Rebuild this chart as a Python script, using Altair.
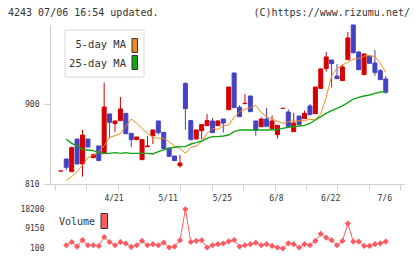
import altair as alt
import pandas as pd

# ---- daily candles (index 0 .. 60) ----
open_ = [824.6, 838.1, 823.9, 860.6, 832.5, 860.6, 839.6, 852.8, 844.1, 888.8,
         877.9, 881.3, 889.5, 867.0, 859.9, 837.4, 852.0, 864.4, 880.9, 868.1,
         850.5, 841.5, 830.6, 923.0, 881.3, 860.6, 870.0, 875.6, 880.9, 875.6,
         883.1, 893.6, 934.9, 896.3, 900.4, 909.0, 880.9, 874.5, 883.1, 872.3,
         865.5, 895.1, 891.0, 868.9, 886.5, 883.5, 897.8, 889.1, 917.6, 939.8,
         949.5, 931.5, 926.3, 949.9, 988.9, 958.5, 933.0, 954.0, 946.1, 937.5,
         928.1]
close = [824.6, 828.8, 850.9, 832.5, 865.1, 851.6, 843.0, 836.3, 896.6, 879.4,
         880.9, 894.4, 866.6, 859.9, 862.9, 859.9, 852.8, 870.8, 867.8, 849.8,
         841.1, 836.3, 833.6, 894.8, 859.9, 870.8, 876.8, 881.3, 867.8, 880.9,
         878.6, 919.1, 895.9, 885.8, 900.8, 891.4, 870.4, 883.1, 874.9, 880.9,
         876.0, 895.1, 874.5, 878.6, 877.1, 889.5, 888.0, 919.1, 939.4, 952.9,
         945.4, 928.5, 941.6, 974.3, 957.8, 938.6, 956.3, 945.8, 935.6, 927.4,
         913.1]
high = [824.6, 838.1, 852.0, 860.6, 870.8, 860.6, 844.5, 852.8, 924.0, 888.8,
        880.9, 907.9, 889.5, 867.0, 862.9, 859.9, 863.8, 870.8, 880.9, 868.1,
        850.5, 841.5, 842.6, 924.5, 881.3, 870.8, 876.8, 888.8, 884.5, 882.0,
        883.1, 919.1, 934.9, 898.7, 911.3, 909.0, 880.9, 885.0, 895.5, 887.1,
        876.0, 895.1, 893.8, 889.9, 886.5, 892.5, 900.0, 919.1, 940.1, 958.5,
        949.5, 945.0, 944.0, 981.0, 988.9, 959.6, 956.3, 954.0, 960.8, 939.4,
        931.3]
low = [824.6, 825.4, 823.9, 832.5, 818.3, 851.6, 839.6, 836.3, 844.1, 861.2,
       868.5, 881.3, 866.6, 851.5, 859.9, 837.4, 852.0, 855.0, 865.5, 849.8,
       841.1, 836.3, 828.4, 871.0, 859.9, 860.6, 860.6, 875.6, 867.8, 875.6,
       867.8, 893.6, 895.9, 885.8, 900.4, 891.4, 864.4, 874.5, 874.9, 872.3,
       861.0, 895.1, 874.5, 868.9, 877.1, 883.5, 888.0, 889.1, 916.9, 936.4,
       918.4, 928.5, 926.3, 949.9, 956.6, 938.6, 933.0, 945.8, 931.8, 927.4,
       911.8]

# ---- moving averages and volume (index 1 .. 60) ----
ma5 = [813.8, 818.3, 823.9, 831.4, 839.6, 842.6, 846.4, 853.1, 862.5, 864.4,
       866.6, 875.3, 883.1, 878.3, 872.6, 867.0, 862.5, 861.4, 861.4, 857.6,
       852.8, 850.1, 844.5, 851.3, 852.8, 857.6, 867.0, 872.6, 871.5, 875.3,
       876.4, 885.0, 891.4, 894.0, 895.9, 898.5, 890.3, 885.8, 883.1, 880.5,
       878.3, 880.1, 880.9, 880.9, 881.3, 882.8, 882.0, 888.8, 907.5, 931.5,
       940.1, 943.9, 946.9, 950.3, 951.0, 954.0, 954.4, 953.3, 945.8, 935.6]
ma25 = [860.6, 855.8, 852.8, 849.0, 848.3, 847.5, 845.3, 844.5, 844.5, 845.3,
        844.5, 845.3, 844.5, 844.5, 844.5, 844.5, 843.8, 846.4, 848.3, 850.1,
        851.3, 852.0, 852.0, 855.0, 856.5, 858.4, 861.4, 863.3, 863.3, 864.0,
        865.1, 868.9, 870.8, 870.8, 870.8, 870.8, 870.8, 870.8, 870.8, 871.5,
        872.6, 873.8, 874.5, 875.3, 876.0, 878.3, 882.0, 885.8, 889.5, 892.5,
        895.1, 897.8, 901.5, 905.6, 907.5, 909.0, 910.1, 912.0, 913.5, 913.9]
volume = [1600, 3100, 1000, 4000, 1600, 1600, 1300, 5400, 3100, 1600,
          3100, 2400, 850, 1600, 3600, 1600, 2100, 1600, 2800, 550,
          1000, 3900, 18200, 3100, 3600, 3900, 550, 1600, 2100, 2400,
          3400, 4000, 1000, 1600, 2100, 2800, 1600, 2100, 1300, 550,
          100, 2500, 2100, 550, 2100, 1600, 3600, 6900, 5100, 3900,
          1600, 3600, 11600, 3300, 3300, 1300, 1300, 2100, 2500, 3300]

date_labels = ["4/21", "5/11", "5/25", "6/8", "6/22", "7/6"]
date_index = [10, 20, 30, 40, 50, 60]

price_ticks = [810, 900]
volume_ticks = [100, 9150, 18200]

header_left = "4243 07/06 16:54 updated."
header_right = "(C)https://www.rizumu.net/"
legend_labels = ["5-day MA", "25-day MA"]

# ---- styling ----
FONT = "DejaVu Sans Mono"
INK = "#333333"
AXIS = "#cfcfcf"
UP = "#d40000"
DOWN = "#4242c2"
ORANGE = "#f08a1a"
GREEN = "#14a514"
VOL = "#ff5a60"

W, H = 355, 224          # whole plotting area (price + volume panels)
PRICE_H = 159            # price panel height

x_lo, x_hi = -1.08, 62.63
x_scale = alt.Scale(domain=[x_lo, x_hi], nice=False, zero=False)
x_tick_values = [x_lo + k * (x_hi - x_lo) / 11 for k in range(12)]
x_axis = alt.Axis(values=x_tick_values, labels=False, title=None, grid=False,
                  domainColor=AXIS, tickColor=AXIS, tickSize=6,
                  orient="bottom", offset=-(H - PRICE_H))

p_scale = alt.Scale(domain=[810, 988.875], range=[PRICE_H, 0], nice=False, zero=False)
p_axis = alt.Axis(values=price_ticks, title=None, grid=False,
                  domainColor=AXIS, tickColor=AXIS, tickSize=6,
                  labelFont=FONT, labelFontSize=8, labelColor=INK, labelPadding=5)

v_scale = alt.Scale(domain=[100, 18200], range=[223.5, 184.3], nice=False, zero=False)
v_axis = alt.Axis(values=volume_ticks, format="d", title=None, grid=False, domain=False,
                  ticks=False, tickSize=0, orient="left",
                  labelFont=FONT, labelFontSize=8, labelColor=INK, labelPadding=6)

candles = pd.DataFrame({"i": list(range(len(open_))), "open": open_, "close": close,
                        "high": high, "low": low})
candles["dir"] = ["up" if c >= o else "down" for o, c in zip(open_, close)]
dir_color = alt.Color("dir:N", scale=alt.Scale(domain=["up", "down"], range=[UP, DOWN]),
                      legend=None)

lines = pd.DataFrame({"i": list(range(1, len(ma5) + 1)), "ma5": ma5, "ma25": ma25,
                      "vol": volume})
dates = pd.DataFrame({"i": date_index, "label": date_labels})
one = pd.DataFrame({"n": [0]})

X = alt.X("i:Q", scale=x_scale, axis=x_axis)

wicks = alt.Chart(candles).mark_rule(strokeWidth=1).encode(
    x=X, y=alt.Y("low:Q", scale=p_scale, axis=p_axis), y2="high:Q", color=dir_color)
bodies = alt.Chart(candles).mark_bar(size=4, strokeWidth=1).encode(
    x=X, y=alt.Y("open:Q", scale=p_scale, axis=p_axis), y2="close:Q",
    color=dir_color, stroke=dir_color)
ma5_line = alt.Chart(lines).mark_line(color=ORANGE, strokeWidth=1).encode(
    x=X, y=alt.Y("ma5:Q", scale=p_scale, axis=p_axis))
ma25_line = alt.Chart(lines).mark_line(color=GREEN, strokeWidth=1.4).encode(
    x=X, y=alt.Y("ma25:Q", scale=p_scale, axis=p_axis))
date_text = alt.Chart(dates).mark_text(font=FONT, fontSize=8, color=INK,
                                       align="center", baseline="middle", dx=-1).encode(
    x=X, y=alt.value(PRICE_H + 14.5), text="label:N")

price = alt.layer(wicks, bodies, ma5_line, ma25_line, date_text)

vol_line = alt.Chart(lines).mark_line(color=VOL, strokeWidth=1).encode(
    x=X, y=alt.Y("vol:Q", scale=v_scale, axis=v_axis))
vol_pts = alt.Chart(lines).mark_point(shape="diamond", filled=True, size=38,
                                      color=VOL, opacity=1).encode(
    x=X, y=alt.Y("vol:Q", scale=v_scale, axis=v_axis))
volume_panel = alt.layer(vol_line, vol_pts)


def label(text, x, y, align="left", size=10):
    return alt.Chart(one).mark_text(text=text, font=FONT, fontSize=size, color=INK,
                                    align=align, baseline="middle").encode(
        x=alt.value(x), y=alt.value(y))


def box(x, x2, y, y2, fill, stroke):
    return alt.Chart(one).mark_rect(fill=fill, stroke=stroke, strokeWidth=1).encode(
        x=alt.value(x), x2=alt.value(x2), y=alt.value(y), y2=alt.value(y2))


deco = alt.layer(
    label(header_left, -42, -12.5),
    label(header_right, 360, -12.5, align="right"),
    box(15, 94, 5, 52, "white", "#d8d8d8"),
    label(legend_labels[0], 76, 20, align="right", size=10.5),
    label(legend_labels[1], 76, 38.5, align="right", size=10.5),
    box(82, 87.5, 13.5, 27.5, ORANGE, "#333333"),
    box(82, 87.5, 30.5, 44.5, GREEN, "#333333"),
    label("Volume", 9, 196.7),
    box(51, 57.5, 188.5, 203.5, VOL, "#333333"),
)

chart = alt.layer(price, volume_panel, deco).resolve_scale(y="independent").properties(
    width=W, height=H,
    background="white",
    autosize=alt.AutoSizeParams(type="none"),
    padding={"left": 50, "top": 25, "right": 15, "bottom": 10},
).configure_view(stroke=None)

chart.save("out.html", embed_options={"renderer": "svg", "actions": False})
